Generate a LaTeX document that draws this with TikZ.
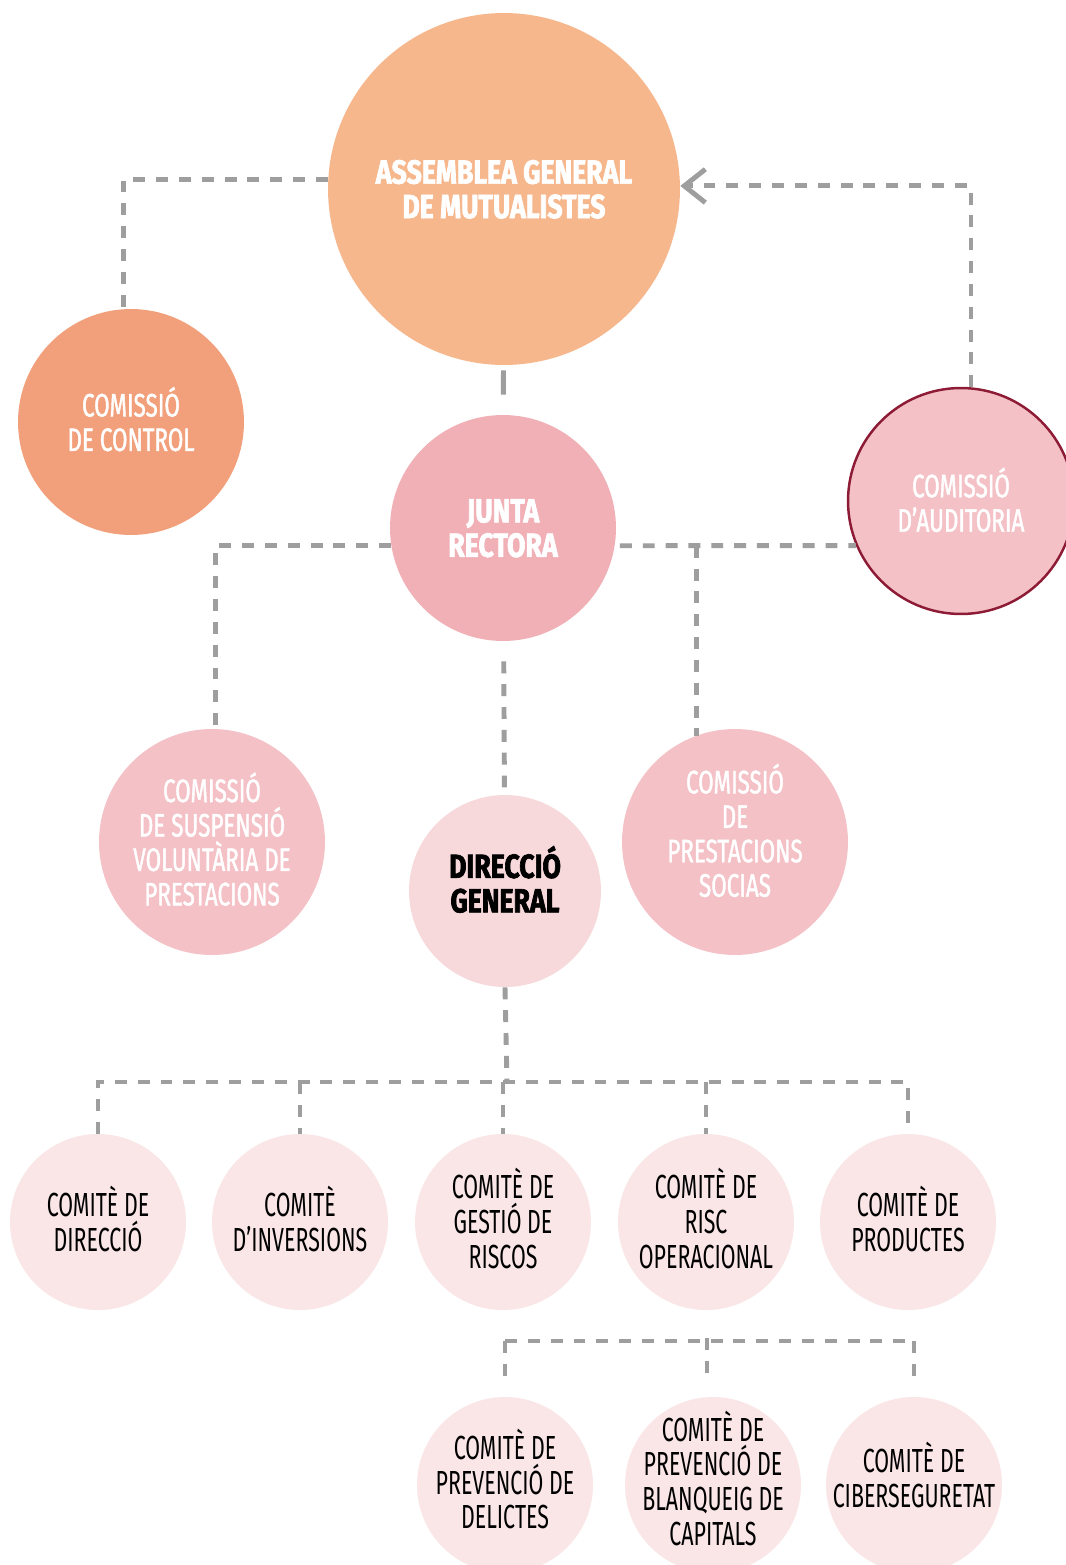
\documentclass[tikz,border=0pt]{standalone}
\usepackage{fontspec}
\setmainfont{Fira Sans}[FakeStretch=0.64]
\newfontfamily\heavyfont{Fira Sans}[FakeStretch=0.8,BoldFeatures={FakeBold=2}]
\newfontfamily\semifont{Fira Sans}[FakeStretch=0.69,FakeBold=1.3]
\usepackage{tikz}
\usetikzlibrary{arrows.meta}
\usetikzlibrary{positioning}
\usetikzlibrary{calc}

\definecolor{assembleacol}{HTML}{F6B78C}
\definecolor{controlcol}{HTML}{F2A07B}
\definecolor{juntacol}{HTML}{F0B0B6}
\definecolor{comissiocol}{HTML}{F3C1C6}
\definecolor{auditvora}{HTML}{8E1B36}
\definecolor{direcciocol}{HTML}{F7D9DB}
\definecolor{comitecol}{HTML}{FAE6E7}
\definecolor{linkgray}{HTML}{9E9E9E}

\begin{document}
\begin{tikzpicture}[line cap=butt,x=0.02cm,y=-0.02cm,
  link/.style={draw=linkgray,line width=2.8pt,dash pattern=on 6.8pt off 6.2pt},
  organ/.style={circle,inner sep=-8pt,align=center,text=white,minimum size=4.52cm,
    text depth=3.5pt,font=\semifont\fontsize{18.5}{19.6}\selectfont},
  headorgan/.style={circle,inner sep=0pt,align=center,text=white,
    font=\heavyfont\bfseries\fontsize{19}{19.6}\selectfont},
  comite/.style={circle,inner sep=-8pt,fill=comitecol,minimum size=3.52cm,align=center,
    text depth=4pt,font=\fontsize{19}{19.8}\selectfont}]
\useasboundingbox[fill=white] (0,0) rectangle (1065,1565);

\node[headorgan,fill=assembleacol,minimum size=7.04cm,text depth=-3.4pt] (assemblea) at (504,189) {ASSEMBLEA GENERAL\\DE MUTUALISTES};
\node[organ,fill=controlcol] (control) at (131,422) {COMISSIÓ\\DE CONTROL};
\node[headorgan,fill=juntacol,minimum size=4.52cm,text depth=-5.5pt] (junta) at (503,528) {JUNTA\\RECTORA};
\node[organ,fill=comissiocol,draw=auditvora,line width=1.4pt,text depth=1.5pt] (auditoria) at (961,501) {COMISSIÓ\\D’AUDITORIA};
\node[organ,fill=comissiocol] (suspensio) at (212,842) {COMISSIÓ\\DE SUSPENSIÓ\\VOLUNTÀRIA DE\\PRESTACIONS};
\node[headorgan,fill=direcciocol,text=black,minimum size=3.84cm,text depth=13.5pt] (direccio) at (505,891) {DIRECCIÓ\\GENERAL};
\node[organ,fill=comissiocol,text depth=13.4pt] (prestacions) at (735,842) {COMISSIÓ\\DE\\PRESTACIONS\\SOCIAS};

\node[comite] (c1) at (98,1222) {COMITÈ DE\\DIRECCIÓ};
\node[comite] (c2) at (300,1222) {COMITÈ\\D’INVERSIONS};
\node[comite] (c3) at (503,1222) {COMITÈ DE\\GESTIÓ DE\\RISCOS};
\node[comite] (c4) at (706,1222) {COMITÈ DE\\RISC\\OPERACIONAL};
\node[comite] (c5) at (908,1222) {COMITÈ DE\\PRODUCTES};

\node[comite,text depth=7pt] (d1) at (505,1485) {COMITÈ DE\\PREVENCIÓ DE\\DELICTES};
\node[comite,text depth=8pt] (d2) at (713,1485) {COMITÈ DE\\PREVENCIÓ DE\\BLANQUEIG DE\\CAPITALS};
\node[comite,text depth=12pt] (d3) at (914,1485) {COMITÈ DE\\CIBERSEGURETAT};

\coordinate (bus) at (507,1082);
\coordinate (bus2) at (707,1341);

\draw[link] (assemblea.177) -| (control.94);
\draw[link,-{Straight Barb[length=12pt,width=19pt]}] (auditoria.85) |- (assemblea.1.5);
\draw[link,dash pattern=on 20pt off 6pt,shorten <=0.1cm,shorten >=0.4cm] (assemblea) -- (junta);
\draw[link] (junta.189) -| (suspensio.88);
\draw[link,shorten <=0.1cm] (junta.-9) -- (auditoria.203);
\draw[link] (prestacions.110 |- junta.-9) -- (prestacions.110);
\draw[link,shorten <=0.4cm] (junta) -- (direccio);
\draw[link] (direccio.south) -- (bus);
\draw[link] (c1.north) -- (c1.north |- bus) -- (c5.north |- bus) -- (c5.north);
\foreach \c in {c2,c3,c4}
\draw[link] (\c.north |- bus) -- (\c.north);
\draw[link,shorten >=0.38cm] (d1.north |- bus2) -- (d1.north);
\draw[link] (d1.north |- bus2) -- (d3.north |- bus2);
\draw[link,shorten <=-0.06cm,shorten >=0.38cm] (bus2) -- (bus2 |- d2.north);
\draw[link,shorten >=0.38cm] (d3.north |- bus2) -- (d3.north);
\end{tikzpicture}
\end{document}
